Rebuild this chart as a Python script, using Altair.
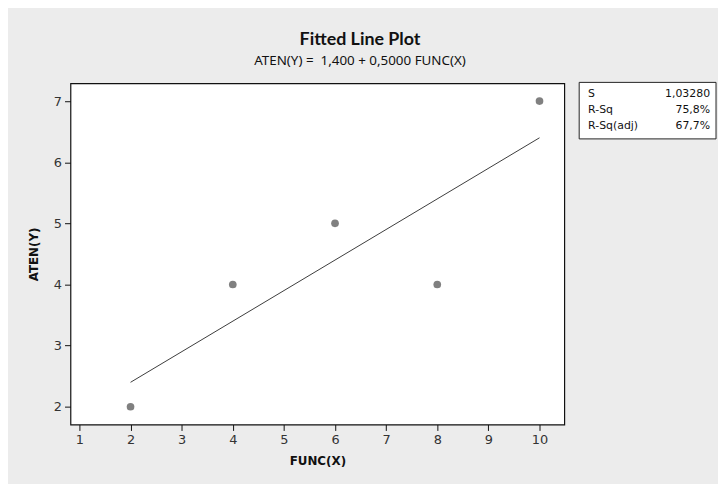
import altair as alt
import pandas as pd

# ---- data ----
func_x = [2, 4, 6, 8, 10]
aten_y = [2, 4, 5, 4, 7]
x_ticks = [1, 2, 3, 4, 5, 6, 7, 8, 9, 10]
y_ticks = [2, 3, 4, 5, 6, 7]
stat_labels = ["S", "R-Sq", "R-Sq(adj)"]
stat_values = ["1,03280", "75,8%", "67,7%"]
title_text = "Fitted Line Plot"
subtitle_text = "ATEN(Y) =\u00a0 1,400 + 0,5000 FUNC(X)"
x_title = "FUNC(X)"
y_title = "ATEN(Y)"

df = pd.DataFrame({"x": func_x, "y": aten_y})

W, H = 498, 344
xscale = alt.Scale(domain=[0.825, 10.485], nice=False, zero=False)
yscale = alt.Scale(domain=[1.71, 7.29], nice=False, zero=False)

base = alt.Chart(df)

fit = base.transform_regression("x", "y", method="linear").mark_line(
    color="#3c3c3c", strokeWidth=1
).encode(
    x=alt.X("x:Q", scale=xscale,
            axis=alt.Axis(values=x_ticks, title=x_title, format="d")),
    y=alt.Y("y:Q", scale=yscale,
            axis=alt.Axis(values=y_ticks, title=y_title, format="d")),
)

points = base.mark_circle(size=60, color="#808080", opacity=1).encode(
    x=alt.X("x:Q", scale=xscale),
    y=alt.Y("y:Q", scale=yscale),
)

box_src = alt.Chart(pd.DataFrame({"k": [0]}))
stat_box = box_src.mark_rect(fill="white", stroke="#222222", strokeWidth=1).encode(
    x=alt.value(513), x2=alt.value(651), y=alt.value(-1), y2=alt.value(56)
)

row_y = [11, 27, 43]
stat_layers = []
for lab, val, yy in zip(stat_labels, stat_values, row_y):
    stat_layers.append(
        box_src.mark_text(align="left", baseline="middle", font="DejaVu Sans",
                          fontSize=11, color="#111111").encode(
            x=alt.value(522), y=alt.value(yy), text=alt.value(lab))
    )
    stat_layers.append(
        box_src.mark_text(align="right", baseline="middle", font="DejaVu Sans",
                          fontSize=11, color="#111111").encode(
            x=alt.value(645), y=alt.value(yy), text=alt.value(val))
    )

chart = alt.layer(fit, points, stat_box, *stat_layers).properties(
    width=W,
    height=H,
    background="#ececec",
    autosize=alt.AutoSizeParams(type="none"),
    padding={"left": 63, "top": 74, "right": 155, "bottom": 58},
    title=alt.TitleParams(
        text=title_text,
        subtitle=subtitle_text,
        anchor="middle",
        dx=43,
        font="Lato",
        fontSize=18,
        fontWeight="bold",
        color="#111111",
        subtitleFont="Noto Sans",
        subtitleFontSize=13.5,
        subtitleColor="#111111",
        subtitlePadding=5,
        offset=15,
    ),
).configure_view(
    stroke="#111111", strokeWidth=1.2, fill="white"
).configure_axis(
    grid=False,
    domain=False,
    tickColor="#111111",
    tickSize=6,
    labelFont="DejaVu Sans",
    labelFontSize=13,
    labelColor="#333333",
    labelPadding=3,
    titleFont="DejaVu Sans",
    titleFontSize=12,
    titleFontWeight="bold",
    titleColor="#111111",
).configure_axisX(
    titlePadding=9,
).configure_axisY(
    titlePadding=13,
)

chart.save("out.html", embed_options={"renderer": "svg", "actions": False})
